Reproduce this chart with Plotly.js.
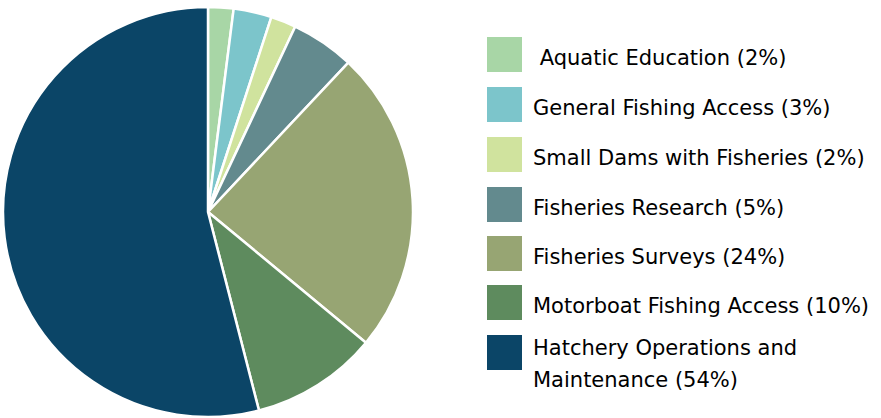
<!DOCTYPE html>
<html>
<head>
<meta charset="utf-8">
<script src="https://cdn.plot.ly/plotly-3.0.1.min.js"></script>
<style>html,body{margin:0;padding:0;background:#fff}#chart{width:881px;height:418px}</style>
</head>
<body>
<div id="chart"></div>
<script>
const categories = ["Aquatic Education","General Fishing Access","Small Dams with Fisheries","Fisheries Research","Fisheries Surveys","Motorboat Fishing Access","Hatchery Operations and Maintenance"];
const values = [2, 3, 2, 5, 24, 10, 54];
const colors = ["#A8D6A6","#7CC5CB","#D0E39E","#638A8E","#97A573","#5E8B5E","#0B4567"];
const legendLines = [
  [" Aquatic Education (2%)"],
  ["General Fishing Access (3%)"],
  ["Small Dams with Fisheries (2%)"],
  ["Fisheries Research (5%)"],
  ["Fisheries Surveys (24%)"],
  ["Motorboat Fishing Access (10%)"],
  ["Hatchery Operations and","Maintenance (54%)"]
];

const W = 881, H = 418;
const swTop = [37, 87, 137, 187, 236, 285, 335];
const shapes = [], annotations = [];
categories.forEach((c, i) => {
  shapes.push({type:"rect", xref:"paper", yref:"paper",
    x0:487/W, x1:522/W, y0:1-(swTop[i]+35)/H, y1:1-swTop[i]/H,
    fillcolor:colors[i], line:{width:0}});
  const lines = legendLines[i];
  const cy = lines.length > 1 ? swTop[i] + 13 : swTop[i] + 21;
  lines.forEach((t, j) => {
    annotations.push({xref:"paper", yref:"paper", x:531/W, y:1-(cy + j*32)/H,
      xanchor:"left", yanchor:"middle", text:t, showarrow:false,
      font:{family:"DejaVu Sans, sans-serif", size:21, color:"#000"}});
  });
});

Plotly.newPlot("chart", [{
  type:"pie", labels:categories, values:values, sort:false, direction:"clockwise",
  rotation:0, textinfo:"none", hoverinfo:"none",
  marker:{colors:colors, line:{color:"#fff", width:2.5}},
  domain:{x:[3/W, 413/W], y:[1/H, 411/H]}
}], {
  width:W, height:H, margin:{l:0,r:0,t:0,b:0}, showlegend:false,
  paper_bgcolor:"#fff", shapes:shapes, annotations:annotations
}, {displayModeBar:false, staticPlot:true});
</script>
</body>
</html>
